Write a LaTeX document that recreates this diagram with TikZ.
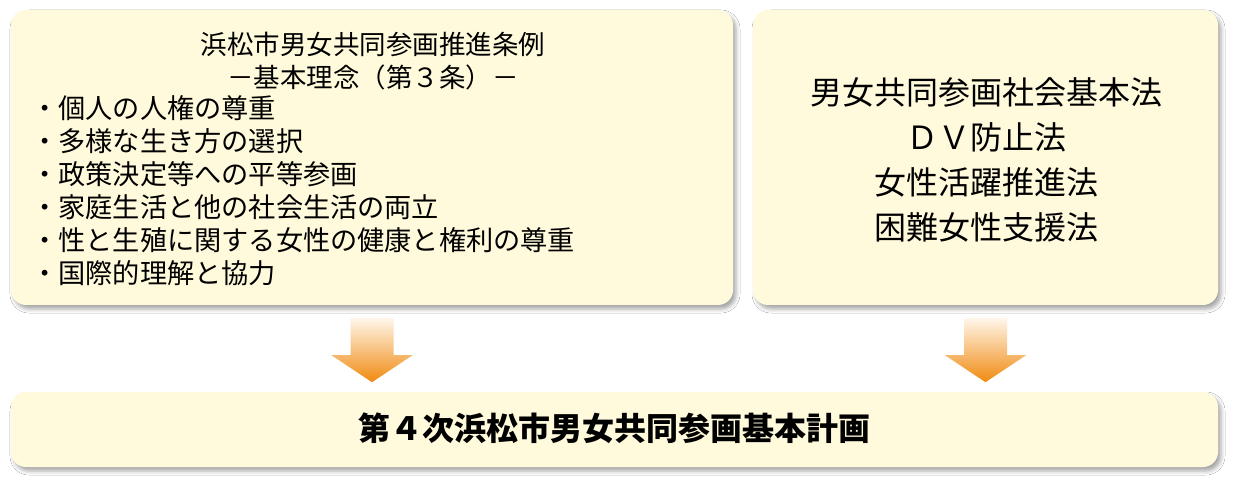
\documentclass[tikz,border=0pt]{standalone}
\usepackage{fontspec}
\setmainfont{Noto Sans CJK JP}
\usetikzlibrary{shadows.blur}
\definecolor{boxfill}{HTML}{FFFADC}
\definecolor{arrowtop}{HTML}{FFF6EA}
\definecolor{arrowbot}{HTML}{F08A10}
\tikzset{
    panel/.style={rounded corners=15pt,fill=boxfill,inner sep=0pt,
        blur shadow={shadow xshift=3pt,shadow yshift=-4pt,shadow blur radius=4pt,shadow opacity=35}},
    arrowfill/.style={top color=arrowtop,bottom color=arrowbot}
}
\begin{document}
\begin{tikzpicture}[x=1pt,y=-1pt]
        \fill[white] (0,0) rectangle (1240,486);
        \useasboundingbox (0,0) rectangle (1240,486);
        \begin{scope}[every node/.style={panel}]
            \node[minimum width=722pt,minimum height=295pt]  (jorei)    at (372.0,157.5) {};
            \node[minimum width=465pt,minimum height=295pt]  (houritsu) at (985.5,157.5) {};
            \node[minimum width=1207pt,minimum height=75pt]  (keikaku)  at (614.5,429.5) {};
        \end{scope}
        \begin{scope}[every node/.style={inner sep=0pt}]
            \node[align=center,font=\fontsize{26.5}{33}\selectfont] (title) at (373,61.5)
                {浜松市男女共同参画推進条例\\－基本理念（第３条）－};
            \node[align=left,anchor=west,font=\fontsize{27.2}{33}\selectfont] (rinen) at (31,190.5)
                {・個人の人権の尊重\\・多様な生き方の選択\\・政策決定等への平等参画\\%
                 ・家庭生活と他の社会生活の両立\\・性と生殖に関する女性の健康と権利の尊重\\・国際的理解と協力};
            \node[align=center,font=\fontsize{32}{45}\selectfont] (hou) at (986,160)
                {男女共同参画社会基本法\\ＤＶ防止法\\女性活躍推進法\\困難女性支援法};
            \node[font=\fontsize{32}{40}\selectfont\bfseries] (plan) at (614.5,428)
                {第４次浜松市男女共同参画基本計画};
        \end{scope}
        \foreach \b in {jorei,houritsu}
            \shade[arrowfill,shift={(\b.south)}] (-21.5,13)--(21.5,13)--(21.5,50)--(40.5,50)
                --(0,77)--(-40.5,50)--(-21.5,50)--cycle;
    \end{tikzpicture}
\end{document}
